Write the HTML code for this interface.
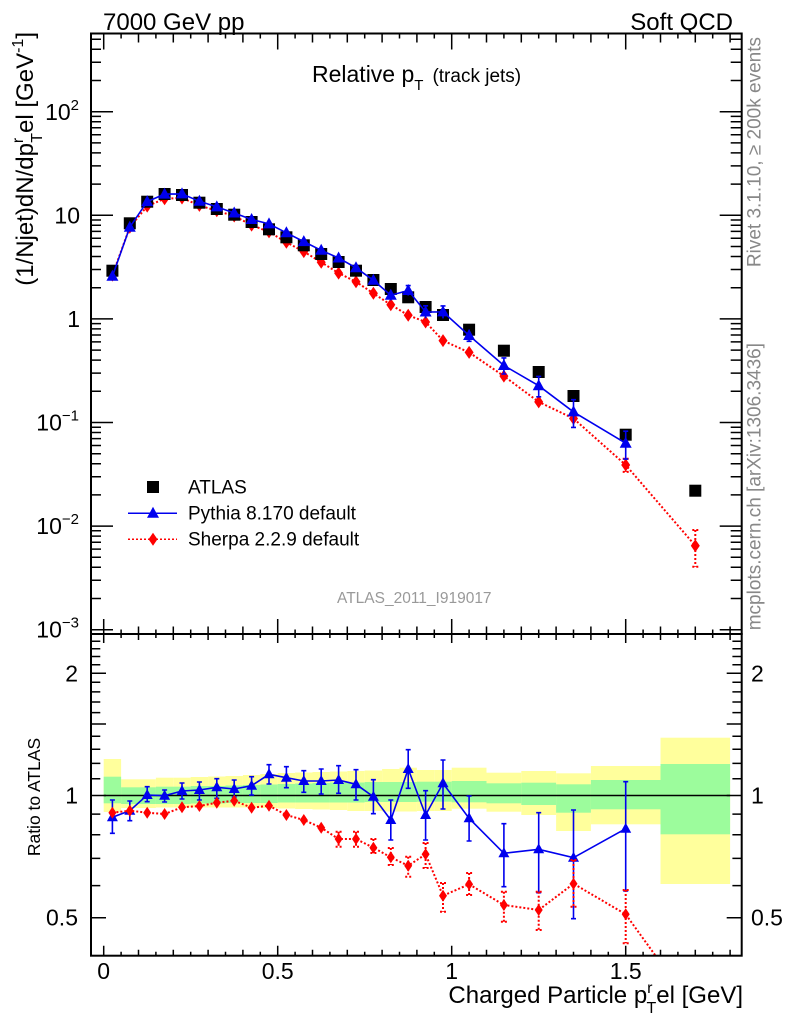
<!DOCTYPE html>
<html><head><meta charset="utf-8"><style>
html,body{margin:0;padding:0;background:#fff;}
svg{display:block;font-family:"Liberation Sans",Arial,sans-serif;}
</style></head><body>
<svg width="786" height="1024" viewBox="0 0 786 1024" xmlns="http://www.w3.org/2000/svg">
<defs>
<clipPath id="ct"><rect x="91" y="33.5" width="650.7" height="600.5"/></clipPath>
<clipPath id="cr"><rect x="91" y="634" width="650.7" height="321.7"/></clipPath>
<path id="tri" d="M0,-6.5 L6,4.5 L-6,4.5Z"/>
<path id="dia" d="M0,-6.5 L4.5,0 L0,6.5 L-4.5,0Z"/>
<path id="tri2" d="M0,-6 L5.5,4 L-5.5,4Z"/>
<path id="dia2" d="M0,-6 L4,0 L0,6 L-4,0Z"/>
</defs>

<!-- ratio bands -->
<g clip-path="url(#cr)">
<g fill="#ffff9c">
<rect x="103.7" y="759" width="17.4" height="53"/>
<rect x="121.1" y="779.3" width="17.4" height="28.7"/>
<rect x="138.5" y="779.3" width="17.4" height="28.7"/>
<rect x="155.9" y="777.7" width="17.4" height="29.8"/>
<rect x="173.3" y="777.7" width="17.4" height="29.8"/>
<rect x="190.7" y="777" width="17.4" height="30.5"/>
<rect x="208.1" y="776.5" width="17.4" height="31"/>
<rect x="225.5" y="776" width="17.4" height="31.5"/>
<rect x="242.9" y="775" width="17.4" height="32.5"/>
<rect x="260.3" y="774" width="17.4" height="34"/>
<rect x="277.7" y="773" width="17.4" height="35.5"/>
<rect x="295.1" y="772.5" width="17.4" height="36.5"/>
<rect x="312.5" y="772" width="17.4" height="37.5"/>
<rect x="329.9" y="771.5" width="17.4" height="38.5"/>
<rect x="347.3" y="771" width="17.4" height="40"/>
<rect x="364.7" y="770.5" width="17.4" height="40.5"/>
<rect x="382.1" y="769" width="17.4" height="42.5"/>
<rect x="399.5" y="767.7" width="17.4" height="43.8"/>
<rect x="416.9" y="770" width="17.4" height="41"/>
<rect x="434.3" y="770" width="17.4" height="41"/>
<rect x="451.7" y="767.7" width="34.8" height="41"/>
<rect x="486.5" y="772.7" width="34.8" height="39"/>
<rect x="521.3" y="771" width="34.8" height="44"/>
<rect x="556.1" y="773.3" width="34.8" height="57.7"/>
<rect x="590.9" y="766" width="69.6" height="58.3"/>
<rect x="660.5" y="737.7" width="69.6" height="146.3"/>
</g>
<g fill="#9cfc9c">
<rect x="103.7" y="776.7" width="17.4" height="26.6"/>
<rect x="121.1" y="787.3" width="34.8" height="16.7"/>
<rect x="155.9" y="786.7" width="34.8" height="17.3"/>
<rect x="190.7" y="786" width="34.8" height="17.5"/>
<rect x="225.5" y="785.5" width="17.4" height="17.5"/>
<rect x="242.9" y="785" width="17.4" height="18"/>
<rect x="260.3" y="784.5" width="17.4" height="18.5"/>
<rect x="277.7" y="784" width="17.4" height="18.5"/>
<rect x="295.1" y="783.5" width="17.4" height="19"/>
<rect x="312.5" y="783" width="17.4" height="19.5"/>
<rect x="329.9" y="782.5" width="34.8" height="20"/>
<rect x="364.7" y="782" width="52.2" height="20"/>
<rect x="416.9" y="781.7" width="34.8" height="20"/>
<rect x="451.7" y="781" width="34.8" height="21.3"/>
<rect x="486.5" y="783.3" width="34.8" height="20"/>
<rect x="521.3" y="782.7" width="34.8" height="22.3"/>
<rect x="556.1" y="784.3" width="34.8" height="28.4"/>
<rect x="590.9" y="780" width="69.6" height="29.3"/>
<rect x="660.5" y="764" width="69.6" height="70.3"/>
</g>
<line x1="103.7" y1="795.5" x2="730.1" y2="795.5" stroke="#000" stroke-width="1.5"/>

<!-- ratio pythia -->
<g stroke="#0000ee" stroke-width="1.6" fill="none">
<polyline points="112.4,817.3 129.8,810.7 147.2,795 164.6,795.7 182,791 199.4,790 216.8,787.3 234.2,789 251.6,785.7 269,774.3 286.4,777.7 303.8,781 321.2,781 338.6,780 356,784.3 373.4,796.7 390.8,820 408.2,769 425.6,815 443,783.3 469.1,818.3 503.9,853.3 538.7,849.3 573.5,857.7 625.7,828.7"/>
<path d="M112.4,800V833.3M109.9,800h5M109.9,833.3h5
M129.8,801V820.7M127.3,801h5M127.3,820.7h5
M147.2,786.7V801.7M144.7,786.7h5M144.7,801.7h5
M164.6,790V802M162.1,790h5M162.1,802h5
M182,783V799M179.5,783h5M179.5,799h5
M199.4,782V800M196.9,782h5M196.9,800h5
M216.8,778.7V798.3M214.3,778.7h5M214.3,798.3h5
M234.2,780V797M231.7,780h5M231.7,797h5
M251.6,776.7V795M249.1,776.7h5M249.1,795h5
M269,764.7V784M266.5,764.7h5M266.5,784h5
M286.4,766.7V787.7M283.9,766.7h5M283.9,787.7h5
M303.8,770.7V792.3M301.3,770.7h5M301.3,792.3h5
M321.2,769V794M318.7,769h5M318.7,794h5
M338.6,765.7V793.3M336.1,765.7h5M336.1,793.3h5
M356,769.7V800M353.5,769.7h5M353.5,800h5
M373.4,779.7V813.7M370.9,779.7h5M370.9,813.7h5
M390.8,800V840M388.3,800h5M388.3,840h5
M408.2,749.7V788.3M405.7,749.7h5M405.7,788.3h5
M425.6,790.7V840M423.1,790.7h5M423.1,840h5
M443,760V809M440.5,760h5M440.5,809h5
M469.1,796V841M466.6,796h5M466.6,841h5
M503.9,823.7V886.7M501.4,823.7h5M501.4,886.7h5
M538.7,812.7V892.7M536.2,812.7h5M536.2,892.7h5
M573.5,810V918.7M571,810h5M571,918.7h5
M625.7,781.7V891M623.2,781.7h5M623.2,891h5"/>
</g>
<g fill="#0000ee">
<use href="#tri2" x="112.4" y="817.3"/><use href="#tri2" x="129.8" y="810.7"/><use href="#tri2" x="147.2" y="795"/><use href="#tri2" x="164.6" y="795.7"/><use href="#tri2" x="182" y="791"/><use href="#tri2" x="199.4" y="790"/><use href="#tri2" x="216.8" y="787.3"/><use href="#tri2" x="234.2" y="789"/><use href="#tri2" x="251.6" y="785.7"/><use href="#tri2" x="269" y="774.3"/><use href="#tri2" x="286.4" y="777.7"/><use href="#tri2" x="303.8" y="781"/><use href="#tri2" x="321.2" y="781"/><use href="#tri2" x="338.6" y="780"/><use href="#tri2" x="356" y="784.3"/><use href="#tri2" x="373.4" y="796.7"/><use href="#tri2" x="390.8" y="820"/><use href="#tri2" x="408.2" y="769"/><use href="#tri2" x="425.6" y="815"/><use href="#tri2" x="443" y="783.3"/><use href="#tri2" x="469.1" y="818.3"/><use href="#tri2" x="503.9" y="853.3"/><use href="#tri2" x="538.7" y="849.3"/><use href="#tri2" x="573.5" y="857.7"/><use href="#tri2" x="625.7" y="828.7"/>
</g>

<!-- ratio sherpa -->
<g stroke="#ff0000" stroke-width="2" fill="none" stroke-dasharray="2 2">
<polyline points="112.4,812.7 129.8,810.7 147.2,812.7 164.6,814 182,807.3 199.4,806 216.8,802.7 234.2,800.7 251.6,807.7 269,805.7 286.4,815 303.8,820 321.2,827.7 338.6,839 356,839 373.4,847.7 390.8,857.3 408.2,865.7 425.6,854.3 443,895.7 469.1,884.3 503.9,905 538.7,910 573.5,883.7 625.7,914.3 695.3,1011"/>
<path d="M338.6,831.7V846.7M356,831.7V846.7M373.4,839V853M390.8,848V865M408.2,856.7V876.7M425.6,843V868M443,883V911.7M469.1,873V895M503.9,891.7V921.7M538.7,891.7V930M573.5,860V906.7M625.7,890V943.3
M335.6,831.7h6M335.6,846.7h6M353,831.7h6M353,846.7h6M370.4,839h6M370.4,853h6M387.8,848h6M387.8,865h6M405.2,856.7h6M405.2,876.7h6M422.6,843h6M422.6,868h6M440,883h6M440,911.7h6M466.1,873h6M466.1,895h6M500.9,891.7h6M500.9,921.7h6M535.7,891.7h6M535.7,930h6M570.5,860h6M570.5,906.7h6M622.7,890h6M622.7,943.3h6"/>
</g>
<g fill="#ff0000">
<use href="#dia2" x="112.4" y="812.7"/><use href="#dia2" x="129.8" y="810.7"/><use href="#dia2" x="147.2" y="812.7"/><use href="#dia2" x="164.6" y="814"/><use href="#dia2" x="182" y="807.3"/><use href="#dia2" x="199.4" y="806"/><use href="#dia2" x="216.8" y="802.7"/><use href="#dia2" x="234.2" y="800.7"/><use href="#dia2" x="251.6" y="807.7"/><use href="#dia2" x="269" y="805.7"/><use href="#dia2" x="286.4" y="815"/><use href="#dia2" x="303.8" y="820"/><use href="#dia2" x="321.2" y="827.7"/><use href="#dia2" x="338.6" y="839"/><use href="#dia2" x="356" y="839"/><use href="#dia2" x="373.4" y="847.7"/><use href="#dia2" x="390.8" y="857.3"/><use href="#dia2" x="408.2" y="865.7"/><use href="#dia2" x="425.6" y="854.3"/><use href="#dia2" x="443" y="895.7"/><use href="#dia2" x="469.1" y="884.3"/><use href="#dia2" x="503.9" y="905"/><use href="#dia2" x="538.7" y="910"/><use href="#dia2" x="573.5" y="883.7"/><use href="#dia2" x="625.7" y="914.3"/>
</g>
</g>

<!-- top plot data -->
<g clip-path="url(#ct)">
<g stroke="#ff0000" stroke-width="2" fill="none" stroke-dasharray="2 2">
<polyline points="112.4,275.1 129.8,227.2 147.2,206.1 164.6,198.7 182,198 199.4,205.4 216.8,210.8 234.2,216 251.6,225.1 269,231.9 286.4,242.3 303.8,251.6 321.2,262.2 338.6,273.1 356,281.8 373.4,293.3 390.8,304.8 408.2,315.2 425.6,322 443,340.6 469.1,352.4 503.9,376.1 538.7,401.9 573.5,418.5 625.7,465 695.3,545.7"/>
<path d="M625.7,458.8V471.9M695.3,530V566.7M692.3,530h6M692.3,566.7h6M622.7,458.8h6M622.7,471.9h6M573.5,413V425M538.7,396V408M503.9,371V382"/>
</g>
<g fill="#ff0000">
<use href="#dia" x="112.4" y="275.1"/><use href="#dia" x="129.8" y="227.2"/><use href="#dia" x="147.2" y="206.1"/><use href="#dia" x="164.6" y="198.7"/><use href="#dia" x="182" y="198"/><use href="#dia" x="199.4" y="205.4"/><use href="#dia" x="216.8" y="210.8"/><use href="#dia" x="234.2" y="216"/><use href="#dia" x="251.6" y="225.1"/><use href="#dia" x="269" y="231.9"/><use href="#dia" x="286.4" y="242.3"/><use href="#dia" x="303.8" y="251.6"/><use href="#dia" x="321.2" y="262.2"/><use href="#dia" x="338.6" y="273.1"/><use href="#dia" x="356" y="281.8"/><use href="#dia" x="373.4" y="293.3"/><use href="#dia" x="390.8" y="304.8"/><use href="#dia" x="408.2" y="315.2"/><use href="#dia" x="425.6" y="322"/><use href="#dia" x="443" y="340.6"/><use href="#dia" x="469.1" y="352.4"/><use href="#dia" x="503.9" y="376.1"/><use href="#dia" x="538.7" y="401.9"/><use href="#dia" x="573.5" y="418.5"/><use href="#dia" x="625.7" y="465"/><use href="#dia" x="695.3" y="545.7"/>
</g>
<g fill="#000">
<rect x="106.4" y="264.7" width="12" height="12"/><rect x="123.8" y="217.3" width="12" height="12"/><rect x="141.2" y="195.7" width="12" height="12"/><rect x="158.6" y="188" width="12" height="12"/><rect x="176" y="189" width="12" height="12"/><rect x="193.4" y="196.7" width="12" height="12"/><rect x="210.8" y="203" width="12" height="12"/><rect x="228.2" y="208.7" width="12" height="12"/><rect x="245.6" y="216" width="12" height="12"/><rect x="263" y="223.3" width="12" height="12"/><rect x="280.4" y="231.3" width="12" height="12"/><rect x="297.8" y="239.3" width="12" height="12"/><rect x="315.2" y="248" width="12" height="12"/><rect x="332.6" y="256" width="12" height="12"/><rect x="350" y="264.7" width="12" height="12"/><rect x="367.4" y="274" width="12" height="12"/><rect x="384.8" y="283" width="12" height="12"/><rect x="402.2" y="291.3" width="12" height="12"/><rect x="419.6" y="301" width="12" height="12"/><rect x="437" y="309" width="12" height="12"/><rect x="463.1" y="323.7" width="12" height="12"/><rect x="497.9" y="344.7" width="12" height="12"/><rect x="532.7" y="366" width="12" height="12"/><rect x="567.5" y="390" width="12" height="12"/><rect x="619.7" y="428.7" width="12" height="12"/><rect x="689.3" y="484.7" width="12" height="12"/>
</g>
<g stroke="#0000ee" stroke-width="1.6" fill="none">
<polyline points="112.4,276.3 129.8,227.2 147.2,201.6 164.6,194.1 182,193.9 199.4,201.3 216.8,206.9 234.2,213 251.6,219.5 269,223.9 286.4,232.8 303.8,241.6 321.2,250.3 338.6,258 356,267.8 373.4,280.3 390.8,295.3 408.2,290.5 425.6,312 443,311.9 469.1,335.5 503.9,365.5 538.7,385.7 573.5,411.9 625.7,443.2"/>
<path d="M390.8,290.1V300.4M408.2,285.6V295.5M405.7,285.6h5M425.6,305.8V318.4M423.1,305.8h5M443,305.9V318.4M440.5,305.9h5M469.1,329.8V341.3M466.6,341.3h5M503.9,357.9V374M501.4,357.9h5M501.4,374h5M538.7,376.4V396.8M536.2,376.4h5M536.2,396.8h5M573.5,399.7V427.4M571,399.7h5M571,427.4h5M625.7,431.2V459.1M623.2,431.2h5M623.2,459.1h5"/>
</g>
<g fill="#0000ee">
<use href="#tri" x="112.4" y="276.3"/><use href="#tri" x="129.8" y="227.2"/><use href="#tri" x="147.2" y="201.6"/><use href="#tri" x="164.6" y="194.1"/><use href="#tri" x="182" y="193.9"/><use href="#tri" x="199.4" y="201.3"/><use href="#tri" x="216.8" y="206.9"/><use href="#tri" x="234.2" y="213"/><use href="#tri" x="251.6" y="219.5"/><use href="#tri" x="269" y="223.9"/><use href="#tri" x="286.4" y="232.8"/><use href="#tri" x="303.8" y="241.6"/><use href="#tri" x="321.2" y="250.3"/><use href="#tri" x="338.6" y="258"/><use href="#tri" x="356" y="267.8"/><use href="#tri" x="373.4" y="280.3"/><use href="#tri" x="390.8" y="295.3"/><use href="#tri" x="408.2" y="290.5"/><use href="#tri" x="425.6" y="312"/><use href="#tri" x="443" y="311.9"/><use href="#tri" x="469.1" y="335.5"/><use href="#tri" x="503.9" y="365.5"/><use href="#tri" x="538.7" y="385.7"/><use href="#tri" x="573.5" y="411.9"/><use href="#tri" x="625.7" y="443.2"/>
</g>
</g>

<!-- frames -->
<rect x="91" y="33.5" width="650.7" height="600.5" fill="none" stroke="#000" stroke-width="2"/>
<rect x="91" y="634" width="650.7" height="321.7" fill="none" stroke="#000" stroke-width="2"/>

<!-- x ticks -->
<g stroke="#000" stroke-width="1.5" fill="none">
<!-- top plot top axis -->
<path d="M103.7,33.5v16M277.7,33.5v16M451.7,33.5v16M625.7,33.5v16
M138.5,33.5v9M173.3,33.5v9M208.1,33.5v9M242.9,33.5v9M312.5,33.5v9M347.3,33.5v9M382.1,33.5v9M416.9,33.5v9M486.5,33.5v9M521.3,33.5v9M556.1,33.5v9M590.9,33.5v9M660.5,33.5v9M695.3,33.5v9M730.1,33.5v9
M121.1,33.5v5M155.9,33.5v5M190.7,33.5v5M225.5,33.5v5M260.3,33.5v5M295.1,33.5v5M329.9,33.5v5M364.7,33.5v5M399.5,33.5v5M434.3,33.5v5M469.1,33.5v5M503.9,33.5v5M538.7,33.5v5M573.5,33.5v5M608.3,33.5v5M643.1,33.5v5M677.9,33.5v5M712.7,33.5v5"/>
<!-- top plot bottom axis + ratio top axis -->
<path d="M103.7,619v24M277.7,619v24M451.7,619v24M625.7,619v24
M138.5,626.5v13.5M173.3,626.5v13.5M208.1,626.5v13.5M242.9,626.5v13.5M312.5,626.5v13.5M347.3,626.5v13.5M382.1,626.5v13.5M416.9,626.5v13.5M486.5,626.5v13.5M521.3,626.5v13.5M556.1,626.5v13.5M590.9,626.5v13.5M660.5,626.5v13.5M695.3,626.5v13.5M730.1,626.5v13.5
M121.1,629.5v8.5M155.9,629.5v8.5M190.7,629.5v8.5M225.5,629.5v8.5M260.3,629.5v8.5M295.1,629.5v8.5M329.9,629.5v8.5M364.7,629.5v8.5M399.5,629.5v8.5M434.3,629.5v8.5M469.1,629.5v8.5M503.9,629.5v8.5M538.7,629.5v8.5M573.5,629.5v8.5M608.3,629.5v8.5M643.1,629.5v8.5M677.9,629.5v8.5M712.7,629.5v8.5"/>
<!-- ratio bottom -->
<path d="M103.7,955.7v-10M277.7,955.7v-10M451.7,955.7v-10M625.7,955.7v-10
M138.5,955.7v-6M173.3,955.7v-6M208.1,955.7v-6M242.9,955.7v-6M312.5,955.7v-6M347.3,955.7v-6M382.1,955.7v-6M416.9,955.7v-6M486.5,955.7v-6M521.3,955.7v-6M556.1,955.7v-6M590.9,955.7v-6M660.5,955.7v-6M695.3,955.7v-6M730.1,955.7v-6
M121.1,955.7v-4M155.9,955.7v-4M190.7,955.7v-4M225.5,955.7v-4M260.3,955.7v-4M295.1,955.7v-4M329.9,955.7v-4M364.7,955.7v-4M399.5,955.7v-4M434.3,955.7v-4M469.1,955.7v-4M503.9,955.7v-4M538.7,955.7v-4M573.5,955.7v-4M608.3,955.7v-4M643.1,955.7v-4M677.9,955.7v-4M712.7,955.7v-4"/>
<!-- top y ticks left -->
<path d="M91,111.7h22M91,215.3h22M91,318.9h22M91,422.5h22M91,526.1h22M91,629.7h22
M91,80.5h10M91,62.3h10M91,49.3h10M91,39.3h10
M91,184.1h10M91,165.9h10M91,152.9h10M91,142.9h10M91,134.7h10M91,127.8h10M91,121.7h10M91,116.4h10
M91,287.7h10M91,269.5h10M91,256.5h10M91,246.5h10M91,238.3h10M91,231.4h10M91,225.3h10M91,220h10
M91,391.3h10M91,373.1h10M91,360.1h10M91,350.1h10M91,341.9h10M91,335h10M91,328.9h10M91,323.6h10
M91,494.9h10M91,476.7h10M91,463.7h10M91,453.7h10M91,445.5h10M91,438.6h10M91,432.5h10M91,427.2h10
M91,598.5h10M91,580.3h10M91,567.3h10M91,557.3h10M91,549.1h10M91,542.2h10M91,536.1h10M91,530.8h10"/>
<!-- top y ticks right -->
<path d="M741.7,111.7h-22M741.7,215.3h-22M741.7,318.9h-22M741.7,422.5h-22M741.7,526.1h-22M741.7,629.7h-22
M741.7,80.5h-11M741.7,62.3h-11M741.7,49.3h-11M741.7,39.3h-11
M741.7,184.1h-11M741.7,165.9h-11M741.7,152.9h-11M741.7,142.9h-11M741.7,134.7h-11M741.7,127.8h-11M741.7,121.7h-11M741.7,116.4h-11
M741.7,287.7h-11M741.7,269.5h-11M741.7,256.5h-11M741.7,246.5h-11M741.7,238.3h-11M741.7,231.4h-11M741.7,225.3h-11M741.7,220h-11
M741.7,391.3h-11M741.7,373.1h-11M741.7,360.1h-11M741.7,350.1h-11M741.7,341.9h-11M741.7,335h-11M741.7,328.9h-11M741.7,323.6h-11
M741.7,494.9h-11M741.7,476.7h-11M741.7,463.7h-11M741.7,453.7h-11M741.7,445.5h-11M741.7,438.6h-11M741.7,432.5h-11M741.7,427.2h-11
M741.7,598.5h-11M741.7,580.3h-11M741.7,567.3h-11M741.7,557.3h-11M741.7,549.1h-11M741.7,542.2h-11M741.7,536.1h-11M741.7,530.8h-11"/>
<!-- ratio y ticks -->
<path d="M91,673.3h15M91,724h15M91,795.5h15M91,917.7h15
M91,641.2h9.3M91,648.7h9.3M91,656.5h9.3M91,664.7h9.3M91,682.3h9.3M91,691.9h9.3M91,702h9.3M91,712.6h9.3M91,736.2h9.3M91,749.2h9.3M91,763.4h9.3M91,778.7h9.3M91,814.1h9.3M91,834.8h9.3M91,858.4h9.3M91,885.6h9.3
M741.7,673.3h-15M741.7,724h-15M741.7,795.5h-15M741.7,917.7h-15
M741.7,641.2h-9.3M741.7,648.7h-9.3M741.7,656.5h-9.3M741.7,664.7h-9.3M741.7,682.3h-9.3M741.7,691.9h-9.3M741.7,702h-9.3M741.7,712.6h-9.3M741.7,736.2h-9.3M741.7,749.2h-9.3M741.7,763.4h-9.3M741.7,778.7h-9.3M741.7,814.1h-9.3M741.7,834.8h-9.3M741.7,858.4h-9.3M741.7,885.6h-9.3"/>
</g>

<!-- tick labels -->
<g font-size="23" fill="#000">
<text x="79" y="120" text-anchor="end">10<tspan dy="-10" font-size="15">2</tspan></text>
<text x="80" y="223.5" text-anchor="end">10</text>
<text x="80" y="327" text-anchor="end">1</text>
<text x="79" y="430.5" text-anchor="end">10<tspan dy="-10" font-size="15">−1</tspan></text>
<text x="79" y="534" text-anchor="end">10<tspan dy="-10" font-size="15">−2</tspan></text>
<text x="79" y="637.5" text-anchor="end">10<tspan dy="-10" font-size="15">−3</tspan></text>
<text x="78" y="681.5" text-anchor="end">2</text>
<text x="78" y="803.5" text-anchor="end">1</text>
<text x="78" y="925.7" text-anchor="end">0.5</text>
<text x="751" y="681.5">2</text>
<text x="751" y="803.5">1</text>
<text x="751" y="925.7">0.5</text>
<text x="103.7" y="979" text-anchor="middle">0</text>
<text x="277.7" y="979" text-anchor="middle">0.5</text>
<text x="451.7" y="979" text-anchor="middle">1</text>
<text x="625.7" y="979" text-anchor="middle">1.5</text>
</g>

<!-- titles -->
<text x="103" y="30" font-size="24">7000 GeV pp</text>
<text x="733" y="30" font-size="24" text-anchor="end">Soft QCD</text>
<text x="312" y="82" font-size="23">Relative p<tspan font-size="15" dy="8">T</tspan><tspan font-size="19" dy="-8" dx="9">(track jets)</tspan></text>

<text x="743" y="1003" font-size="24" text-anchor="end">Charged Particle p<tspan dy="-10" font-size="16">r</tspan><tspan dx="-6" dy="20" font-size="16">T</tspan><tspan dy="-10">el [GeV]</tspan></text>

<text transform="translate(33,32) rotate(-90)" font-size="24" text-anchor="end">(1/Njet)dN/dp<tspan dy="-10" font-size="16">r</tspan><tspan dx="-5" dy="19" font-size="16">T</tspan><tspan dy="-9">el [GeV</tspan><tspan dy="-10" font-size="16">-1</tspan><tspan dy="10">]</tspan></text>

<text transform="translate(40,797) rotate(-90)" font-size="17.5" text-anchor="middle">Ratio to ATLAS</text>

<g fill="#888" font-size="19">
<text transform="translate(760.5,37) rotate(-90)" text-anchor="end">Rivet 3.1.10, ≥ 200k events</text>
<text transform="translate(760.5,343) rotate(-90)" text-anchor="end">mcplots.cern.ch [arXiv:1306.3436]</text>
</g>

<!-- legend -->
<rect x="147" y="481" width="12" height="12" fill="#000"/>
<text x="188" y="493.3" font-size="19">ATLAS</text>
<line x1="128" y1="513.3" x2="177" y2="513.3" stroke="#0000ee" stroke-width="1.5"/>
<use href="#tri" x="153" y="513.3" fill="#0000ee"/>
<text x="188" y="519.3" font-size="19">Pythia 8.170 default</text>
<line x1="128" y1="539.3" x2="177" y2="539.3" stroke="#ff0000" stroke-width="1.5" stroke-dasharray="2 2"/>
<use href="#dia" x="153" y="539.3" fill="#ff0000"/>
<text x="188" y="545.3" font-size="19">Sherpa 2.2.9 default</text>

<text x="337" y="603" font-size="15.5" fill="#999">ATLAS_2011_I919017</text>
</svg>
</body></html>
